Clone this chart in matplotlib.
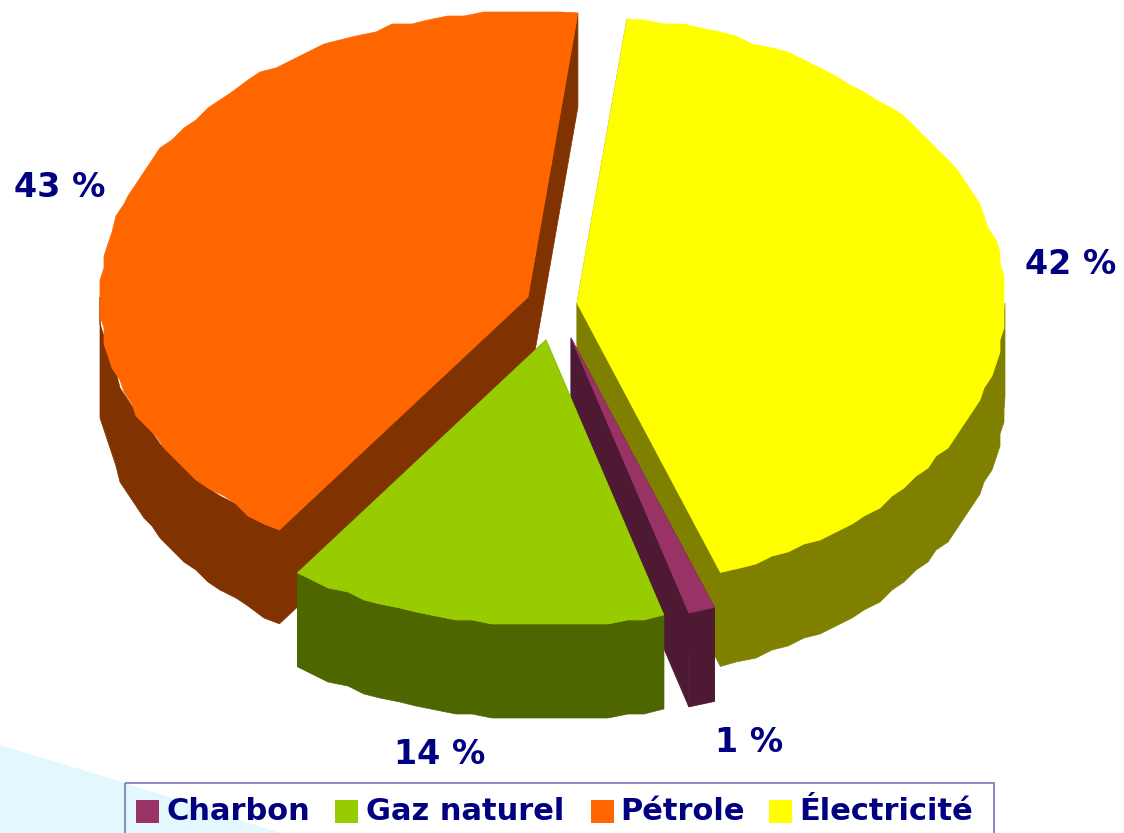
import numpy as np
import matplotlib
matplotlib.use('Agg')
import matplotlib.pyplot as plt
from matplotlib.patches import Polygon, Rectangle

# Clockwise from the top of the pie
categories = ['Électricité', 'Charbon', 'Gaz naturel', 'Pétrole']
shares = [42.7, 1.0, 14.3, 42.0]
share_labels = ['42 %', '1 %', '14 %', '43 %']
colors = ['#FFFF00', '#993366', '#99CC00', '#FF6600']
dark_colors = ['#808000', '#4D1933', '#4D6600', '#803300']
legend_order = ['Charbon', 'Gaz naturel', 'Pétrole', 'Électricité']

# Pie geometry, in pixels
start_angle = 6.7
rx, ry = 428, 286
depth = 94
step = 2.5
grid = 4  # the source picture has coarse, stepped outlines
centers = [(577, 303), (571, 338), (546, 340), (528, 297)]
label_pos = [(1071, 265), (749, 742), (440, 754), (60, 187)]
draw_order = [3, 0, 1, 2]
NAVY = '#000080'


def rim(cx, cy, angles):
    a = np.radians(angles)
    pts = np.column_stack([cx + rx * np.sin(a), cy - ry * np.cos(a)])
    ends = pts[[0, -1]].copy()
    pts = np.round(pts / grid) * grid
    pts[[0, -1]] = ends
    return pts


def arc_angles(a0, a1):
    n = max(int(abs(a1 - a0) / step), 1)
    return np.linspace(a0, a1, n + 1)


fig = plt.figure(figsize=(11.24, 8.33), dpi=100)
ax = fig.add_axes([0, 0, 1, 1])
ax.set_xlim(0, 1124)
ax.set_ylim(833, 0)
ax.axis('off')

# Pale background corner
ax.add_patch(Polygon([(0, 745), (122, 782), (280, 833), (0, 833)],
                     fc='#E3F7FE', ec='none', zorder=0))

edges = start_angle + np.concatenate([[0], np.cumsum(shares)]) * 3.6
z = 1
for i in draw_order:
    cx, cy = centers[i]
    a0, a1 = edges[i], edges[i + 1]
    top = rim(cx, cy, arc_angles(a0, a1))
    shift = np.array([0, depth])
    apex = np.array([cx, cy])

    # Cut faces
    for edge in (top[0], top[-1]):
        face = [apex, edge, edge + shift, apex + shift]
        ax.add_patch(Polygon(face, fc=dark_colors[i], ec=dark_colors[i],
                             lw=0.5, zorder=z))
    # Outer wall, only the part turned to the viewer
    lo, hi = max(a0, 90), min(a1, 270)
    if hi > lo:
        wall_top = rim(cx, cy, arc_angles(lo, hi))
        wall = np.vstack([wall_top, wall_top[::-1] + shift])
        ax.add_patch(Polygon(wall, fc=dark_colors[i], ec=dark_colors[i],
                             lw=0.5, zorder=z))
    # Top face
    ax.add_patch(Polygon(np.vstack([apex, top]), fc=colors[i], ec=colors[i],
                         lw=0.5, zorder=z + 0.5))
    z += 1

for label, (x, y) in zip(share_labels, label_pos):
    ax.text(x, y, label, color=NAVY, fontsize=24, fontweight='bold',
            ha='center', va='center', family='DejaVu Sans', zorder=10)

# Legend box
ax.add_patch(Rectangle((125, 783), 869, 60, fc='none', ec='#7777BB', lw=1.2,
                       zorder=10))
swatch_x = [136, 335, 591, 769]
text_x = [167, 366, 620, 799]
for name, sx, tx in zip(legend_order, swatch_x, text_x):
    ax.add_patch(Rectangle((sx, 800), 23, 23,
                           fc=colors[categories.index(name)], ec='none',
                           zorder=10))
    ax.text(tx, 811, name, color=NAVY, fontsize=22, fontweight='bold',
            ha='left', va='center', family='DejaVu Sans', zorder=10)

fig.savefig('out.png', dpi=100)
